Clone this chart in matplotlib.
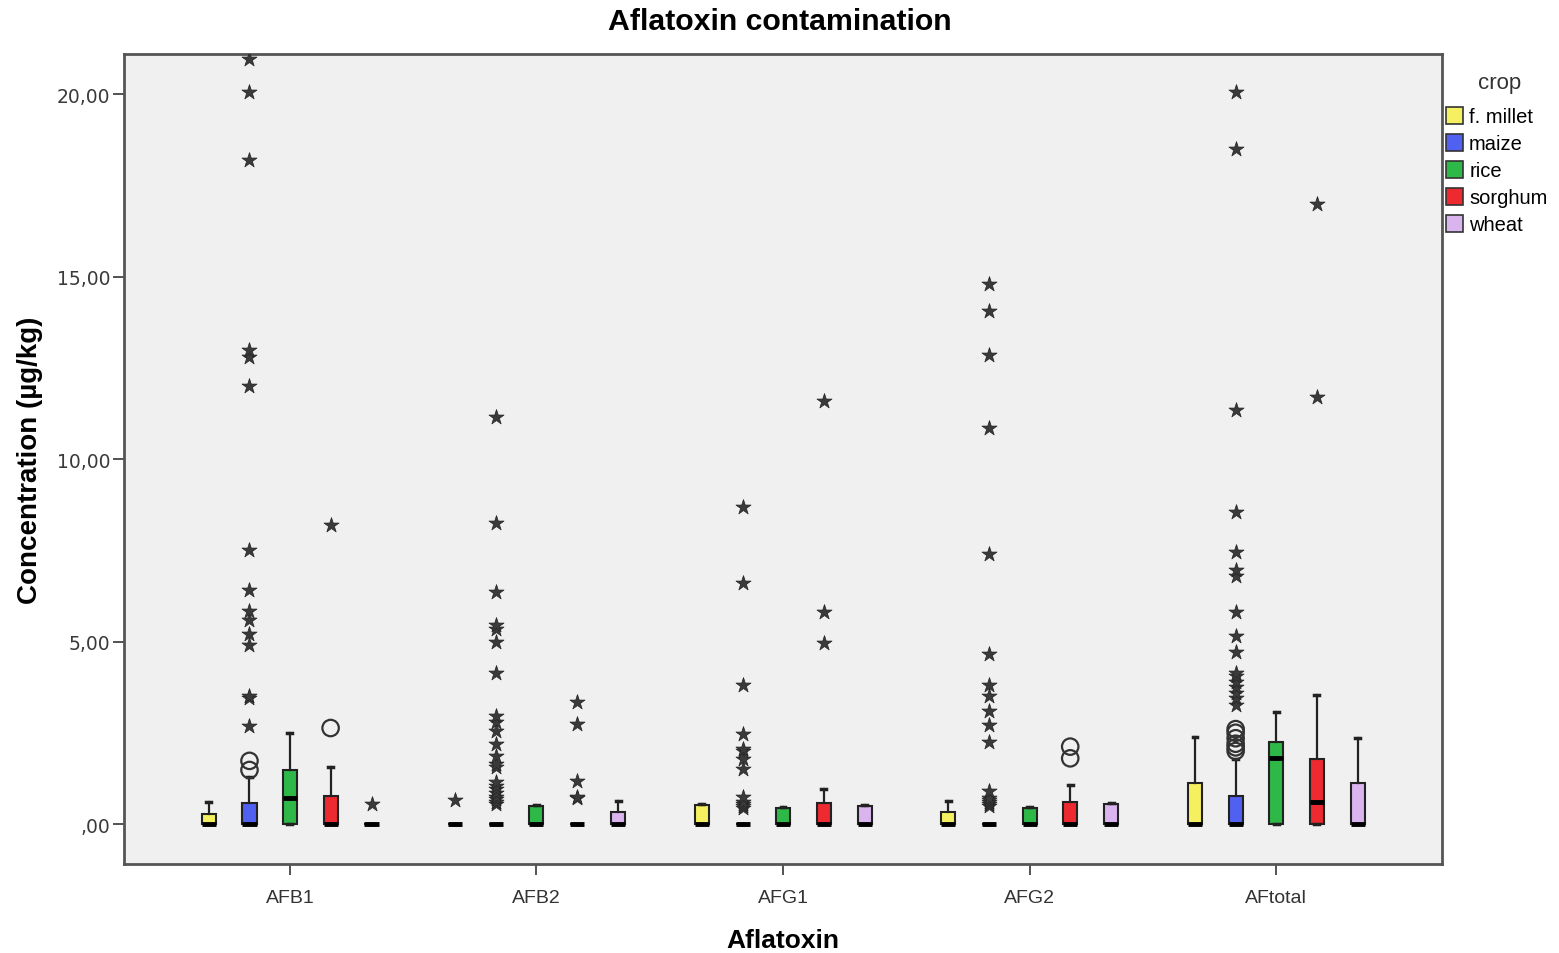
import numpy as np
import matplotlib
matplotlib.use("Agg")
import matplotlib.pyplot as plt
from matplotlib.patches import Patch

# ---------------------------------------------------------------
# Data
toxins = ["AFB1", "AFB2", "AFG1", "AFG2", "AFtotal"]
crops = ["f. millet", "maize", "rice", "sorghum", "wheat"]
colors = ["#f5f060", "#5060f0", "#2eb848", "#ec2a30", "#d9b4ee"]

# rows = toxins, cols = crops
q1 = np.zeros((5, 5))
whislo = np.zeros((5, 5))
med = np.array([[0, 0, 0.71, 0, 0],
                [0, 0, 0, 0, 0],
                [0, 0, 0, 0, 0],
                [0, 0, 0, 0, 0],
                [0, 0, 1.81, 0.59, 0]])
q3 = np.array([[0.28, 0.58, 1.48, 0.77, 0],
               [0, 0, 0.50, 0, 0.32],
               [0.52, 0, 0.45, 0.57, 0.50],
               [0.32, 0, 0.45, 0.60, 0.55],
               [1.12, 0.77, 2.24, 1.78, 1.12]])
whishi = np.array([[0.60, 1.30, 2.49, 1.56, 0],
                   [0, 0, 0.52, 0, 0.63],
                   [0.55, 0, 0.47, 0.96, 0.52],
                   [0.63, 0, 0.47, 1.07, 0.57],
                   [2.38, 1.78, 3.06, 3.54, 2.35]])

# outliers (circles) and extremes (stars), keyed by (toxin, crop)
outliers = {
    ("AFB1", "maize"): [1.48, 1.73],
    ("AFB1", "sorghum"): [2.63],
    ("AFG2", "sorghum"): [1.80, 2.12],
    ("AFtotal", "maize"): [2.0, 2.1, 2.2, 2.35, 2.5, 2.6],
}
extremes = {
    ("AFB1", "maize"): [2.68, 3.45, 3.5, 4.9, 5.2, 5.6, 5.85, 6.4, 7.5,
                        12.0, 12.8, 13.0, 18.2, 20.05, 20.95],
    ("AFB1", "sorghum"): [8.2],
    ("AFB1", "wheat"): [0.55],
    ("AFB2", "f. millet"): [0.65],
    ("AFB2", "maize"): [0.55, 0.6, 0.68, 0.75, 0.85, 0.95, 1.05, 1.15, 1.55,
                        1.65, 1.85, 2.2, 2.55, 2.8, 2.95, 4.15, 5.0, 5.35,
                        5.45, 6.35, 8.25, 11.15],
    ("AFB2", "sorghum"): [0.7, 0.75, 1.18, 2.75, 3.33],
    ("AFG1", "maize"): [0.45, 0.5, 0.55, 0.6, 0.75, 1.5, 1.78, 2.0, 2.05,
                        2.47, 3.8, 6.6, 8.7],
    ("AFG1", "sorghum"): [4.95, 5.8, 11.6],
    ("AFG2", "maize"): [0.5, 0.55, 0.6, 0.65, 0.7, 0.9, 2.25, 2.7, 3.1, 3.5,
                        3.8, 4.65, 7.4, 10.85, 12.85, 14.05, 14.8],
    ("AFtotal", "maize"): [3.25, 3.45, 3.6, 3.75, 3.9, 4.05, 4.15, 4.7, 5.15,
                           5.8, 6.8, 6.95, 7.45, 8.55, 11.35, 18.5, 20.05],
    ("AFtotal", "sorghum"): [11.7, 17.0],
}

# ---------------------------------------------------------------
W, H = 1559, 954
fig = plt.figure(figsize=(W / 100, H / 100), dpi=100)
ax = fig.add_axes([124 / W, 1 - 865 / H, (1442 - 124) / W, (865 - 55) / H])
ax.set_facecolor("#f0f0f0")

offsets = np.array([-0.329, -0.164, 0.0, 0.165, 0.331])
box_w = 0.057

for i, tox in enumerate(toxins):
    for j, crop in enumerate(crops):
        pos = i + offsets[j]
        st = dict(med=med[i, j], q1=q1[i, j], q3=q3[i, j],
                  whislo=whislo[i, j], whishi=whishi[i, j], fliers=[])
        ax.bxp([st], positions=[pos], widths=box_w, patch_artist=True,
               showfliers=False,
               boxprops=dict(facecolor=colors[j], edgecolor="#222222", linewidth=1.5),
               medianprops=dict(color="black", linewidth=3.5, solid_capstyle="butt"),
               whiskerprops=dict(color="#222222", linewidth=1.6),
               capprops=dict(color="#222222", linewidth=2.5),
               capwidths=0.02)
        o = outliers.get((tox, crop), [])
        if o:
            ax.scatter([pos] * len(o), o, s=140, facecolors="none",
                       edgecolors="#333333", linewidths=1.6, zorder=4)
        e = extremes.get((tox, crop), [])
        if e:
            ax.scatter([pos] * len(e), e, s=130, marker="*", facecolor="#3a3a3a",
                       edgecolor="#222222", linewidths=0.5, zorder=4)

ax.set_xlim(-0.673, 4.673)
ax.set_ylim(-1.096, 21.1)
ax.set_xticks(range(len(toxins)))
ax.set_xticklabels(toxins, fontsize=14, family="Liberation Sans", color="#333333")
ax.set_yticks([0, 5, 10, 15, 20])
ax.set_yticklabels([",00", "5,00", "10,00", "15,00", "20,00"], fontsize=13.5,
                   family="DejaVu Sans", color="#3a3a3a")
ax.tick_params(axis="both", direction="out", length=8, width=1.3, color="#444444")
ax.tick_params(axis="x", pad=10)
ax.tick_params(axis="y", pad=2)
for sp in ax.spines.values():
    sp.set_color("#555555")
    sp.set_linewidth(2)

ax.set_xlabel("Aflatoxin", fontsize=19, fontweight="bold",
              family="Liberation Sans", labelpad=16)
ax.set_ylabel("Concentration (µg/kg)", fontsize=20, fontweight="bold",
              family="Liberation Sans", labelpad=10)
fig.text(0.5, 1 - 22 / H, "Aflatoxin contamination", ha="center", va="center",
         fontsize=21.8, fontweight="bold", family="Liberation Sans")

# legend outside the plot, SPSS style
fig.text(1500 / W, 1 - 83 / H, "crop", ha="center", va="center", fontsize=16,
         family="Liberation Sans", color="#333333")
handles = [Patch(facecolor=c, edgecolor="#333333", linewidth=1.2) for c in colors]
ax.legend(handles, crops, loc="upper left",
          bbox_to_anchor=(1446 / W, 1 - 108 / H), bbox_transform=fig.transFigure,
          frameon=False, handlelength=0.85, handleheight=0.9,
          handletextpad=0.3, labelspacing=0.38, borderaxespad=0, borderpad=0,
          prop=dict(family="Liberation Sans", size=14.5))

fig.savefig("out.png", dpi=100, facecolor="white")
